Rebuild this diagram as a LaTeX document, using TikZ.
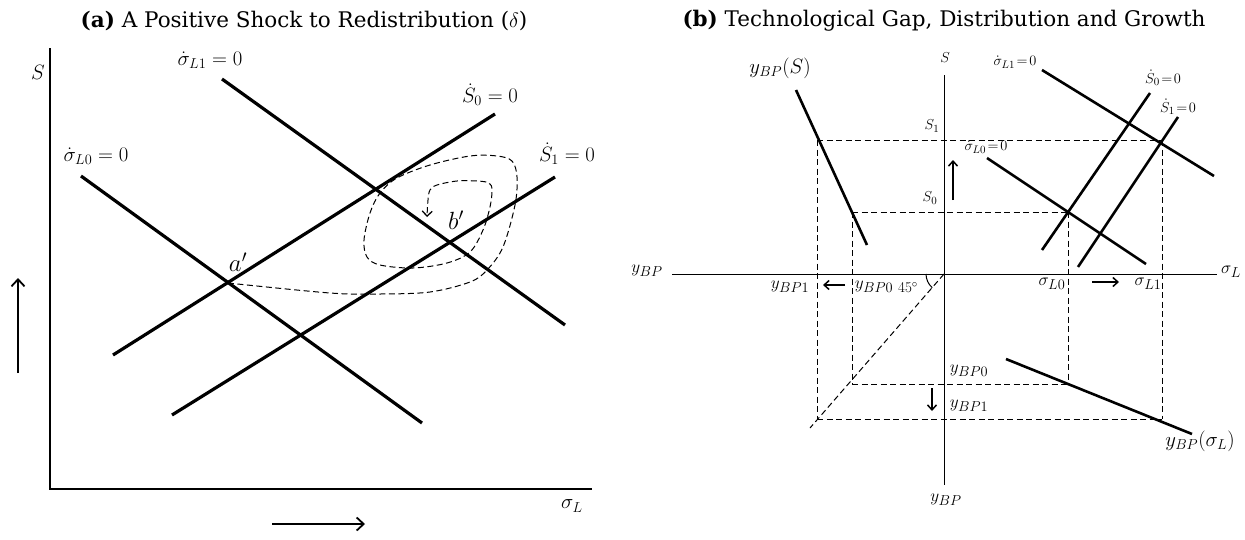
\documentclass[tikz,border=0pt]{standalone}
\usepackage{fontspec}
\newfontfamily\ttlfont{DejaVu Serif}
\usetikzlibrary{arrows.meta}
\begin{document}
\begin{tikzpicture}[x=1pt,y=-1pt,
  thickln/.style={line width=3.2pt},
  midln/.style={line width=2.6pt},
  axisA/.style={line width=1.8pt},
  axisB/.style={line width=1pt},
  dashln/.style={line width=1pt,dash pattern=on 6pt off 3.5pt},
  arr/.style={line width=1.8pt,-{Straight Barb[length=7pt,width=13pt,line width=1.8pt]}},
  arrs/.style={line width=1.5pt,-{Straight Barb[length=5pt,width=9pt,line width=1.5pt]}},
  ttl/.style={font=\ttlfont\fontsize{21.5}{24}\selectfont,inner sep=0pt},
  big/.style={font=\fontsize{21}{24}\selectfont,inner sep=0pt},
  huge/.style={font=\fontsize{27}{30}\selectfont,inner sep=0pt},
  mid/.style={font=\fontsize{19}{22}\selectfont,inner sep=0pt},
  sml/.style={font=\fontsize{15}{18}\selectfont,inner sep=0pt}]
\useasboundingbox (0,0) rectangle (1245,539);
% ---------- titles ----------
\node[ttl] (ta) at (304,21) {\textbf{(a)} A Positive Shock to Redistribution ($\delta$)};
\node[ttl] (tb) at (944,21) {\textbf{(b)} Technological Gap, Distribution and Growth};
% ---------- panel (a) ----------
\coordinate (aO) at (50,489);
\coordinate (aT) at (50,48);
\coordinate (aR) at (592,489);
\draw[axisA] (aT) -- (aO) -- (aR);
\node[big] (aS) at (38,72) {$S$};
\node[big] (asig) at (572,506) {$\sigma_{L}$};
\coordinate (l1a) at (222,79);  \coordinate (l1b) at (565,325);
\coordinate (l0a) at (81,176);  \coordinate (l0b) at (422,423);
\coordinate (s0a) at (113,355); \coordinate (s0b) at (495,114);
\coordinate (s1a) at (172,415); \coordinate (s1b) at (555,177);
\draw[thickln] (l1a) -- (l1b);
\draw[thickln] (l0a) -- (l0b);
\draw[thickln] (s0a) -- (s0b);
\draw[thickln] (s1a) -- (s1b);
\node[big] (lL1) at (210,60) {$\dot{\sigma}_{L1}=0$};
\node[big] (lL0) at (96,156) {$\dot{\sigma}_{L0}=0$};
\node[big] (lS0) at (490,95) {$\dot{S}_{0}=0$};
\node[big] (lS1) at (567,154) {$\dot{S}_{1}=0$};
\coordinate (pa) at (228,283);
\coordinate (pb) at (448,243);
\node[huge] (la) at (238,262) {$a'$};
\node[huge] (lb) at (456,220) {$b'$};
\draw[dashln,-{Straight Barb[length=5pt,width=10pt,line width=1.3pt]}] plot[smooth,tension=0.55] coordinates {
 (228,283) (330,293) (380,294) (430,292) (470,282) (487,270) (503,247) (515,205) (517,177) (512,161) (497,156) (470,156)
 (430,165) (397,178) (380,193) (370,213) (364,240) (367,257) (380,265) (413,268) (447,263) (470,252)
 (483,230) (490,207) (492,190) (489,183) (477,181) (457,181) (437,185) (430,190) (428,200) (427,217)};
\coordinate (ua1) at (18,373); \coordinate (ua2) at (18,278);
\draw[arr] (ua1) -- (ua2);
\coordinate (ra1) at (272,524); \coordinate (ra2) at (365,524);
\draw[arr] (ra1) -- (ra2);
% ---------- panel (b) ----------
\coordinate (bO) at (944,274);
\coordinate (bL) at (672,274); \coordinate (bR) at (1217,274);
\coordinate (bT) at (944,75);  \coordinate (bB) at (944,485);
\draw[axisB] (bL) -- (bR);
\draw[axisB] (bT) -- (bB);
\node[mid] (byl) at (647,271) {$y_{BP}$};
\node[mid] (bsr) at (1231,272) {$\sigma_{L}$};
\node[sml] (bst) at (945,58) {$S$};
\node[mid] (byb) at (946,500) {$y_{BP}$};
% dashed construction
\coordinate (q1) at (817,140); \coordinate (q2) at (1162,140);
\coordinate (q3) at (852,212); \coordinate (q4) at (1068,212);
\coordinate (q5) at (852,384); \coordinate (q6) at (1068,384);
\coordinate (q7) at (817,419); \coordinate (q8) at (1162,419);
\coordinate (qd) at (810,428);
\draw[dashln] (q1) -- (q2);
\draw[dashln] (q3) -- (q4);
\draw[dashln] (q5) -- (q6);
\draw[dashln] (q7) -- (q8);
\draw[dashln] (q1) -- (q7);
\draw[dashln] (q3) -- (q5);
\draw[dashln] (q4) -- (q6);
\draw[dashln] (q2) -- (q8);
\draw[dashln] (bO) -- (qd);
\draw[line width=1pt] (926,274) arc[start angle=180,end angle=229,radius=18pt];
\node[sml] (b45) at (908,288) {45$^{\circ}$};
% curves
\coordinate (ysa) at (796,90);   \coordinate (ysb) at (867,245);
\coordinate (m1a) at (1042,70);  \coordinate (m1b) at (1214,176);
\coordinate (m0a) at (987,158);  \coordinate (m0b) at (1146,264);
\coordinate (n0a) at (1042,250); \coordinate (n0b) at (1150,93);
\coordinate (n1a) at (1078,267); \coordinate (n1b) at (1178,117);
\coordinate (yla) at (1006,359); \coordinate (ylb) at (1192,434);
\draw[midln] (ysa) -- (ysb);
\draw[midln] (m1a) -- (m1b);
\draw[midln] (m0a) -- (m0b);
\draw[midln] (n0a) -- (n0b);
\draw[midln] (n1a) -- (n1b);
\draw[midln] (yla) -- (ylb);
\node[big] (bys) at (780,68) {$y_{BP}(S)$};
\node[sml] (bm1) at (1015,62) {$\dot{\sigma}_{L1}\!=\!0$};
\node[sml] (bm0) at (986,147) {$\dot{\sigma}_{L0}\!=\!0$};
\node[sml] (bn0) at (1163,78) {$\dot{S}_{0}\!=\!0$};
\node[sml] (bn1) at (1178,107) {$\dot{S}_{1}\!=\!0$};
\node[sml] (bs1) at (932,126) {$S_{1}$};
\node[sml] (bs0) at (930,198) {$S_{0}$};
\node[mid] (bsl0) at (1052,284) {$\sigma_{L0}$};
\node[mid] (bsl1) at (1148,284) {$\sigma_{L1}$};
\node[mid] (by1l) at (790,287) {$y_{BP1}$};
\node[mid] (by0l) at (874,287) {$y_{BP0}$};
\node[mid] (by0r) at (969,371) {$y_{BP0}$};
\node[mid] (by1r) at (969,406) {$y_{BP1}$};
\node[big] (bysl) at (1200,441) {$y_{BP}(\sigma_{L})$};
% arrows
\coordinate (au1) at (953,200); \coordinate (au2) at (953,160);
\coordinate (al1) at (845,285); \coordinate (al2) at (823,285);
\coordinate (ar1) at (1092,282); \coordinate (ar2) at (1119,282);
\coordinate (ad1) at (932,388); \coordinate (ad2) at (932,411);
\draw[arrs] (au1) -- (au2);
\draw[arrs] (al1) -- (al2);
\draw[arrs] (ar1) -- (ar2);
\draw[arrs] (ad1) -- (ad2);
\end{tikzpicture}
\end{document}
